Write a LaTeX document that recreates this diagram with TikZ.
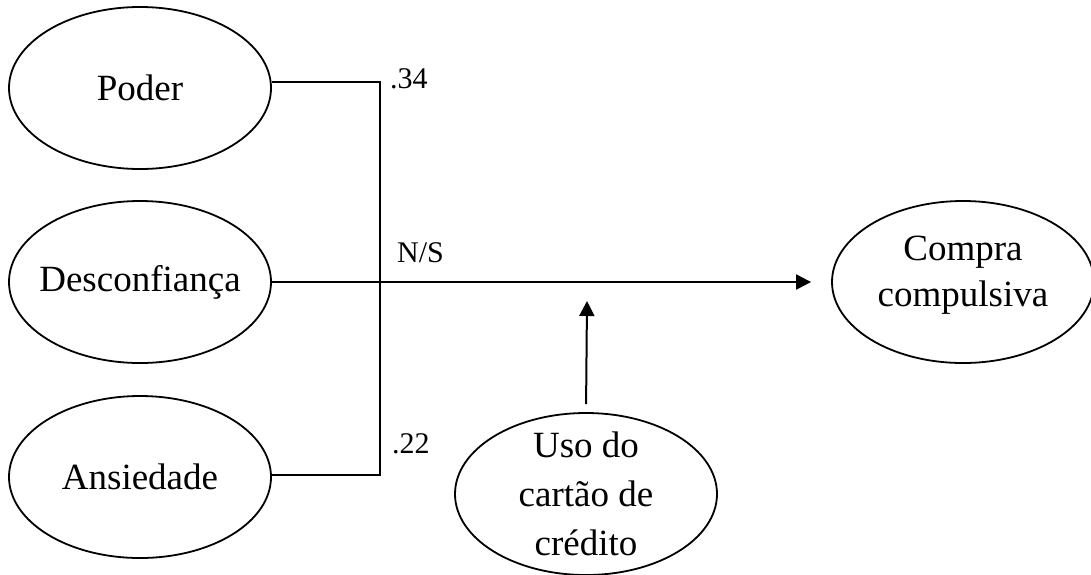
\documentclass[tikz,border=0pt]{standalone}
\usepackage{fontspec}
\setmainfont{Liberation Serif}
\usetikzlibrary{shapes.geometric,arrows.meta,calc}
\begin{document}
\begin{tikzpicture}[x=1pt,y=-1pt,
  construct/.style={draw, ellipse, line width=1.8pt, minimum width=262pt,
    minimum height=162pt, inner sep=0pt, align=center,
    font=\fontsize{37}{46}\selectfont},
  link/.style={line width=2pt},
  effect/.style={link, -{Triangle[length=15pt,width=15pt]}},
  coef/.style={anchor=base west, inner sep=0pt, font=\fontsize{30}{36}\selectfont}]
\fill[white] (0,0) rectangle (1091,574);
\useasboundingbox (0,0) rectangle (1091,574);

% latent constructs
\node[construct] (poder)     at (140,88)  {Poder};
\node[construct, inner xsep=-12pt] (desconf) at (140,282) {Desconfiança};
\node[construct] (ansiedade) at (140,477) {Ansiedade};
\node[construct] (compra)    at (963,282) {Compra\\compulsiva\rule[-21pt]{0pt}{21pt}};
\node[construct, inner ysep=-8pt, font=\fontsize{37}{49}\selectfont] (uso)
  at (586,494) {Uso do\\cartão de\\crédito};

% bracket joining the predictors
\coordinate (jtop) at (380,82);
\coordinate (jbot) at (380,475);
\draw[link] (poder.east |- jtop) -- (jtop) -- (jbot) -- (ansiedade.east |- jbot);

% main effect and moderator
\draw[effect, shorten >=20pt] (desconf.east) -- (compra.west);
\coordinate (modtip) at (587,301);
\draw[effect, shorten <=8pt] (uso.north) -- (modtip);

% path coefficients
\node[coef] (bpoder) at (390,88)  {.34};
\node[coef] (bdesc)  at (397,262) {N/S};
\node[coef] (bans)   at (392,453) {.22};
\end{tikzpicture}
\end{document}
